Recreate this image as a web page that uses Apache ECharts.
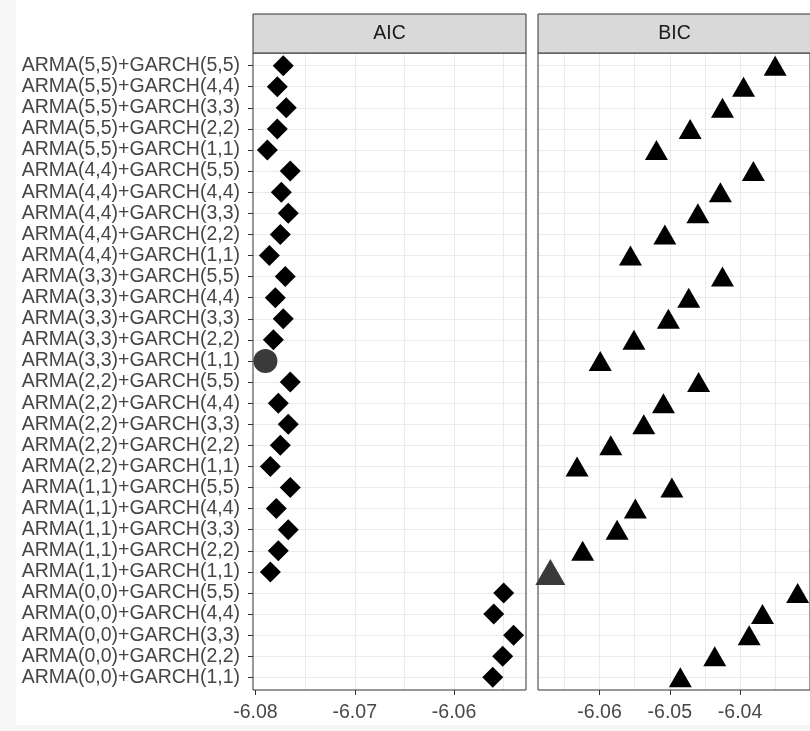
<!DOCTYPE html>
<html>
<head>
<meta charset="utf-8">
<script src="https://cdn.jsdelivr.net/npm/echarts@6/dist/echarts.min.js"></script>
<style>
  html, body { margin: 0; padding: 0; background: #ffffff; }
  #chart { width: 810px; height: 731px; }
</style>
</head>
<body>
<div id="chart"></div>
<script>
// Model names, listed top to bottom as in the figure
const categories = [
  'ARMA(5,5)+GARCH(5,5)', 'ARMA(5,5)+GARCH(4,4)', 'ARMA(5,5)+GARCH(3,3)', 'ARMA(5,5)+GARCH(2,2)', 'ARMA(5,5)+GARCH(1,1)',
  'ARMA(4,4)+GARCH(5,5)', 'ARMA(4,4)+GARCH(4,4)', 'ARMA(4,4)+GARCH(3,3)', 'ARMA(4,4)+GARCH(2,2)', 'ARMA(4,4)+GARCH(1,1)',
  'ARMA(3,3)+GARCH(5,5)', 'ARMA(3,3)+GARCH(4,4)', 'ARMA(3,3)+GARCH(3,3)', 'ARMA(3,3)+GARCH(2,2)', 'ARMA(3,3)+GARCH(1,1)',
  'ARMA(2,2)+GARCH(5,5)', 'ARMA(2,2)+GARCH(4,4)', 'ARMA(2,2)+GARCH(3,3)', 'ARMA(2,2)+GARCH(2,2)', 'ARMA(2,2)+GARCH(1,1)',
  'ARMA(1,1)+GARCH(5,5)', 'ARMA(1,1)+GARCH(4,4)', 'ARMA(1,1)+GARCH(3,3)', 'ARMA(1,1)+GARCH(2,2)', 'ARMA(1,1)+GARCH(1,1)',
  'ARMA(0,0)+GARCH(5,5)', 'ARMA(0,0)+GARCH(4,4)', 'ARMA(0,0)+GARCH(3,3)', 'ARMA(0,0)+GARCH(2,2)', 'ARMA(0,0)+GARCH(1,1)'
];

const aicValues = [
  -6.0772, -6.0778, -6.0769, -6.0778, -6.0788,
  -6.0765, -6.0774, -6.0767, -6.0775, -6.0786,
  -6.0770, -6.0780, -6.0772, -6.0782, -6.0790,
  -6.0765, -6.0777, -6.0767, -6.0775, -6.0785,
  -6.0765, -6.0779, -6.0767, -6.0777, -6.0785,
  -6.0550, -6.0560, -6.0540, -6.0551, -6.0561
];

const bicValues = [
  -6.0350, -6.0395, -6.0425, -6.0471, -6.0519,
  -6.0381, -6.0428, -6.0460, -6.0507, -6.0556,
  -6.0425, -6.0473, -6.0502, -6.0551, -6.0599,
  -6.0459, -6.0509, -6.0537, -6.0584, -6.0632,
  -6.0497, -6.0549, -6.0575, -6.0624, -6.0670,
  -6.0318, -6.0368, -6.0387, -6.0436, -6.0485
];

const panelTitles = ['AIC', 'BIC'];
const aicTickLabels = [-6.08, -6.07, -6.06];
const bicTickLabels = [-6.06, -6.05, -6.04];
const aicGridValues = [-6.075, -6.07, -6.065, -6.06, -6.055];
const bicGridValues = [-6.065, -6.06, -6.055, -6.05, -6.045, -6.04, -6.035];

// ggplot-like 5% expansion of the data range
function expand(vals) {
  const lo = Math.min(...vals), hi = Math.max(...vals);
  const pad = (hi - lo) * 0.05;
  return [lo - pad, hi + pad];
}
const aicRange = expand(aicValues);
const bicRange = expand(bicValues);

const FONT = "'Liberation Sans', Arial, sans-serif";
const FS = 19.5;
const TEXT = '#474747';
const GRIDLINE = '#ebebeb';
const BORDER = '#333333';

// panel geometry
const panelTop = 53, panelH = 637, panelW = 273;
const leftA = 253, leftB = 538;
const nCat = categories.length;
const step = panelH / (nCat - 1 + 1.2);
const dataTop = panelTop + 0.6 * step - step / 2;
const dataH = step * nCat;

function minIndex(arr) { let m = 0; arr.forEach((v, i) => { if (v < arr[m]) m = i; }); return m; }
const aicBest = minIndex(aicValues);
const bicBest = minIndex(bicValues);

const chart = echarts.init(document.getElementById('chart'), null, { renderer: 'canvas' });

function valueAxisHidden(gridIndex, range) {
  return { type: 'value', gridIndex, min: range[0], max: range[1], show: false };
}
function labelAxis(gridIndex, range, ticks) {
  return {
    type: 'value', gridIndex, min: range[0], max: range[1],
    axisLine: { show: false },
    axisTick: { show: true, length: 5, customValues: ticks, lineStyle: { color: BORDER, width: 1 } },
    axisLabel: { show: true, customValues: ticks, color: TEXT, fontFamily: FONT, fontSize: FS, margin: 13,
      formatter: v => v.toFixed(2) },
    splitLine: { show: false }
  };
}
function gridAxis(gridIndex, range, vals) {
  return {
    type: 'value', gridIndex, min: range[0], max: range[1],
    axisLine: { show: false },
    axisTick: { show: false, customValues: vals },
    axisLabel: { show: false, customValues: vals },
    splitLine: { show: true, lineStyle: { color: GRIDLINE, width: 1 } }
  };
}

const option = {
  backgroundColor: '#ffffff',
  animation: false,
  grid: [
    { left: leftA, top: dataTop, width: panelW, height: dataH },
    { left: leftB, top: dataTop, width: panelW, height: dataH },
    { left: leftA, top: panelTop, width: panelW, height: panelH, show: true, borderColor: BORDER, borderWidth: 1, backgroundColor: 'transparent', z: 3 },
    { left: leftB, top: panelTop, width: panelW, height: panelH, show: true, borderColor: BORDER, borderWidth: 1, backgroundColor: 'transparent', z: 3 }
  ],
  xAxis: [
    valueAxisHidden(0, aicRange),
    valueAxisHidden(1, bicRange),
    labelAxis(2, aicRange, aicTickLabels),
    labelAxis(3, bicRange, bicTickLabels),
    gridAxis(2, aicRange, aicGridValues),
    gridAxis(3, bicRange, bicGridValues)
  ],
  yAxis: [
    {
      type: 'category', gridIndex: 0, data: categories, inverse: true,
      axisLine: { show: false },
      axisTick: { show: true, alignWithLabel: true, length: 5, lineStyle: { color: BORDER } },
      axisLabel: { color: TEXT, fontFamily: FONT, fontSize: FS, margin: 13, interval: 0 },
      splitLine: { show: true, alignWithLabel: true, interval: 0, lineStyle: { color: GRIDLINE, width: 1 } }
    },
    {
      type: 'category', gridIndex: 1, data: categories, inverse: true,
      axisLine: { show: false },
      axisTick: { show: false, alignWithLabel: true },
      axisLabel: { show: false },
      splitLine: { show: true, alignWithLabel: true, interval: 0, lineStyle: { color: GRIDLINE, width: 1 } }
    },
    { type: 'value', gridIndex: 2, show: false },
    { type: 'value', gridIndex: 3, show: false }
  ],
  series: [
    {
      type: 'scatter', xAxisIndex: 0, yAxisIndex: 0, clip: false, z: 5,
      data: aicValues.map((v, i) => i === aicBest
        ? { value: [v, categories[i]], symbol: 'circle', symbolSize: 24, itemStyle: { color: '#3a3a3a', opacity: 1 } }
        : { value: [v, categories[i]], symbol: 'diamond', symbolSize: [21, 21], itemStyle: { color: '#000000', opacity: 1 } })
    },
    {
      type: 'scatter', xAxisIndex: 1, yAxisIndex: 1, clip: false, z: 5,
      data: bicValues.map((v, i) => i === bicBest
        ? { value: [v, categories[i]], symbol: 'triangle', symbolSize: [30, 26], itemStyle: { color: '#3a3a3a', opacity: 1 } }
        : { value: [v, categories[i]], symbol: 'triangle', symbolSize: [23, 20], itemStyle: { color: '#000000', opacity: 1 } })
    }
  ],
  graphic: [
    { type: 'rect', left: 0, top: 0, shape: { width: 16, height: 731 }, style: { fill: '#f6f6f6' }, z: -10 },
    { type: 'rect', left: 0, top: 725, shape: { width: 810, height: 6 }, style: { fill: '#f6f6f6' }, z: -10 },
    { type: 'rect', x: leftA, y: 14, shape: { width: panelW, height: panelTop - 14 }, style: { fill: '#d9d9d9', stroke: BORDER, lineWidth: 1 }, z: 10 },
    { type: 'rect', x: leftB, y: 14, shape: { width: panelW, height: panelTop - 14 }, style: { fill: '#d9d9d9', stroke: BORDER, lineWidth: 1 }, z: 10 },
    { type: 'text', x: leftA + panelW / 2, y: (14 + panelTop) / 2, style: { text: panelTitles[0], fill: '#1a1a1a', font: FS + 'px ' + FONT, align: 'center', verticalAlign: 'middle' }, z: 11 },
    { type: 'text', x: leftB + panelW / 2, y: (14 + panelTop) / 2, style: { text: panelTitles[1], fill: '#1a1a1a', font: FS + 'px ' + FONT, align: 'center', verticalAlign: 'middle' }, z: 11 }
  ]
};
chart.setOption(option);
</script>
</body>
</html>
